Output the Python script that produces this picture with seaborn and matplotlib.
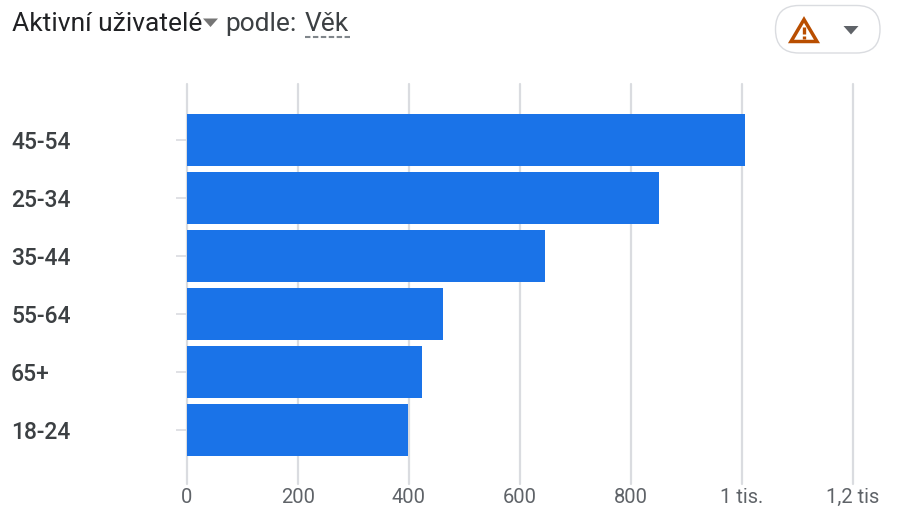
import matplotlib
matplotlib.use("Agg")
import matplotlib.pyplot as plt
from matplotlib.lines import Line2D
from matplotlib.patches import FancyBboxPatch, Polygon
from matplotlib.transforms import IdentityTransform
import pandas as pd
import seaborn as sns

# Data
age_groups = ["45-54", "25-34", "35-44", "55-64", "65+", "18-24"]
active_users = [1006, 851, 645, 461, 424, 398]
tick_values = [0, 200, 400, 600, 800, 1000, 1200]
tick_labels = ["0", "200", "400", "600", "800", "1 tis.", "1,2 tis"]

W, H = 901, 526
BLUE = "#1a73e8"
GRID = "#dadce0"

sns.set_style("white")
plt.rcParams["font.family"] = ["Roboto", "DejaVu Sans"]

df = pd.DataFrame({"age": age_groups, "users": active_users})

fig = plt.figure(figsize=(W / 100, H / 100), dpi=100)
ax = fig.add_axes([186.8 / W, 1 - 483.6 / H, 666 / W, 400 / H])

sns.barplot(data=df, x="users", y="age", color=BLUE, saturation=1, width=0.9,
            linewidth=0, ax=ax, zorder=3)

ax.set_xlim(0, 1200)
ax.set_ylim(5.93, -0.966)
ax.set_xlabel("")
ax.set_ylabel("")
ax.grid(False)
for v in tick_values:
    ax.axvline(v, color=GRID, lw=1.6, zorder=1, clip_on=False)
sns.despine(ax=ax, left=True, bottom=True, top=True, right=True)

ax.set_xticks(tick_values, tick_labels)
ax.tick_params(axis="x", length=0, pad=3, labelsize=14.5, labelcolor="#5f6368")
# labels are left aligned at x=12, so the pad is the whole gap back from the tick
ax.tick_params(axis="y", length=8, width=1.2, color=GRID, left=True, pad=118.5,
               labelsize=16.5)
ax.set_yticks(range(len(age_groups)), age_groups)
for lab in ax.get_yticklabels():
    lab.set_color("#3c4043")
    lab.set_fontweight("medium")
    lab.set_horizontalalignment("left")


def px(x, y):
    return x, H - y


pixels = IdentityTransform()


def fig_text(x, y, s, color):
    fig.text(x, H - y, s, fontsize=19, color=color, va="center", transform=pixels)


def poly(points, **kw):
    fig.add_artist(Polygon([px(*p) for p in points], closed=True, transform=pixels, **kw))


def seg(p1, p2, **kw):
    a, b = px(*p1), px(*p2)
    fig.add_artist(Line2D([a[0], b[0]], [a[1], b[1]], transform=pixels, **kw))


# Header
fig_text(12, 24, "Aktivní uživatelé", "#202124")
fig_text(225, 24, "podle:", "#3c4043")
fig_text(305, 24, "Věk", "#3c4043")
poly([(203, 18.5), (218, 18.5), (210.5, 27)], color="#757575", lw=0)
seg((305, 37), (350, 37), color="#80868b", lw=1.5, ls=(0, (2.6, 1.2)))

# Warning button
fig.add_artist(FancyBboxPatch(px(775.5, 53), 104.5, 47.5,
                              boxstyle="round,pad=0,rounding_size=23.5",
                              fc="white", ec=GRID, lw=1.0, transform=pixels))
poly([(804, 19.5), (817, 41.5), (791, 41.5)], fc="none", ec="#b94e00", lw=2.5,
     joinstyle="miter")
seg((804, 26.5), (804, 33.5), color="#b94e00", lw=2.4, solid_capstyle="butt")
seg((804, 35.5), (804, 39), color="#b94e00", lw=2.4, solid_capstyle="butt")
poly([(843.5, 26), (858.5, 26), (851, 34.5)], color="#5f6368", lw=0)

fig.savefig("out.png", dpi=100)
